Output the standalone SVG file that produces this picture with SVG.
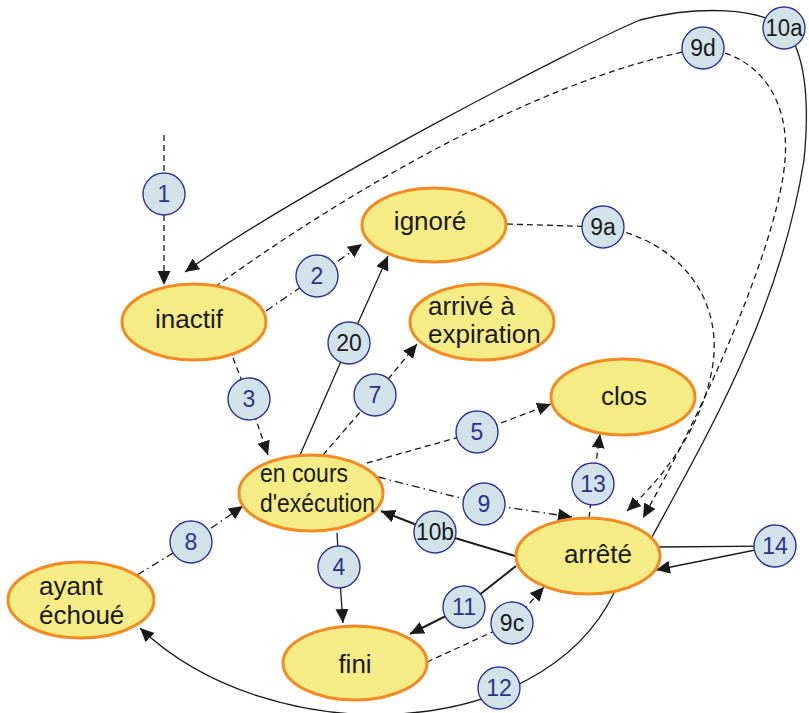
<svg xmlns="http://www.w3.org/2000/svg" width="809" height="713" viewBox="0 0 809 713">
<style>
.st{fill:#f6ec86;stroke:#f38a22;stroke-width:3}
.nt{font-family:"Liberation Sans",Arial,sans-serif;font-size:26px;fill:#1a1a1a}
.lb{fill:#d2e2e9;stroke:#2b3592;stroke-width:1.4}
.lt{font-family:"Liberation Sans",Arial,sans-serif;font-size:23px;text-anchor:middle}
.blue{fill:#2e3192}
.blk{fill:#1a1a1a}
.c{fill:none;stroke:#1a1a1a;stroke-width:1.3}
.d{stroke-dasharray:6 4}
.dd{stroke-dasharray:8 4 1.5 4}
.thick{stroke-width:2}
</style>
<defs>
<marker id="a" markerUnits="userSpaceOnUse" markerWidth="15" markerHeight="14" refX="14" refY="6.5" orient="auto">
<path d="M0,0 L14,6.5 L0,13 z" fill="#1a1a1a"/>
</marker>
</defs>
<g id="connectors">
<path id="c1" class="c d" d="M164,135 L164,285" marker-end="url(#a)"/>
<path id="c2" class="c dd" d="M266,311 L317,276 L362,244" marker-end="url(#a)"/>
<path id="c3" class="c d" d="M233,358 L249,399 L268,455" marker-end="url(#a)"/>
<path id="c20" class="c" d="M300,455 L349,343 L388,256" marker-end="url(#a)"/>
<path id="c7" class="c d" d="M323,455 L375,395 L417,344" marker-end="url(#a)"/>
<path id="c5" class="c d" d="M367,463 L477,432 L551,404" marker-end="url(#a)"/>
<path id="c9" class="c dd" d="M378,477 L484,504 L572,517" marker-end="url(#a)"/>
<path id="c10b" class="c thick" d="M515,556 L435,532 L381,511" marker-end="url(#a)"/>
<path id="c4" class="c" d="M337,533 L339,567 L343,623" marker-end="url(#a)"/>
<path id="c8" class="c dd" d="M137,575 L191,542 L243,506" marker-end="url(#a)"/>
<path id="c11" class="c thick" d="M516,566 L464,607 L410,634" marker-end="url(#a)"/>
<path id="c9c" class="c d" d="M427,662 L512,623 L544,587" marker-end="url(#a)"/>
<path id="c13" class="c d" d="M589,518 L593,484 L600,434" marker-end="url(#a)"/>
<path id="c14a" class="c" d="M775,546 L659,547"/>
<path id="c14b" class="c" d="M775,546 L656,570" marker-end="url(#a)"/>
<path id="c12" class="c" d="M614,593 C540,745 270,752 140,628" marker-end="url(#a)"/>
<path id="c10a" class="c" d="M652,537 C710,430 780,310 804,160 C810,100 805,50 784,28 C760,8 700,5 640,20 C580,45 300,190 185,272" marker-end="url(#a)"/>
<path id="c9d" class="c d" d="M215,287 C300,225 520,80 703,48 C760,55 790,100 785,160 C780,230 720,380 643,518" marker-end="url(#a)"/>
<path id="c9a" class="c d" d="M507,224 L603,227 C680,240 725,300 712,370 C700,430 665,475 627,511" marker-end="url(#a)"/>
</g>
<g id="n-ignore"><ellipse class="st" cx="434" cy="225" rx="72" ry="37"/><text class="nt" x="430" y="230" text-anchor="middle">ignoré</text></g>
<g id="n-inactif"><ellipse class="st" cx="194" cy="322" rx="72" ry="38"/><text class="nt" x="189" y="328" text-anchor="middle">inactif</text></g>
<g id="n-expiration"><ellipse class="st" cx="482" cy="322" rx="72" ry="38"/><text class="nt" x="428" y="315">arrivé à</text><text class="nt" x="428" y="343">expiration</text></g>
<g id="n-clos"><ellipse class="st" cx="623" cy="397" rx="72" ry="38"/><text class="nt" x="624" y="405" text-anchor="middle">clos</text></g>
<g id="n-encours"><ellipse class="st" cx="311" cy="493" rx="72" ry="38"/><text class="nt" x="260" y="482" style="font-size:25px" textLength="88" lengthAdjust="spacingAndGlyphs">en cours</text><text class="nt" x="260" y="512" style="font-size:25px" textLength="115" lengthAdjust="spacingAndGlyphs">d'exécution</text></g>
<g id="n-arrete"><ellipse class="st" cx="588" cy="556" rx="72" ry="38"/><text class="nt" x="598" y="563" text-anchor="middle">arrêté</text></g>
<g id="n-echoue"><ellipse class="st" cx="81" cy="600" rx="73" ry="38"/><text class="nt" x="39" y="595">ayant</text><text class="nt" x="39" y="624">échoué</text></g>
<g id="n-fini"><ellipse class="st" cx="355" cy="663" rx="72" ry="37"/><text class="nt" x="355" y="673" text-anchor="middle">fini</text></g>
<g id="labels">
<g id="l1"><circle class="lb" cx="164" cy="194" r="21"/><text class="lt blue" x="164" y="202">1</text></g>
<g id="l2"><circle class="lb" cx="317" cy="276" r="21"/><text class="lt blue" x="317" y="284">2</text></g>
<g id="l3"><circle class="lb" cx="249" cy="399" r="21"/><text class="lt blue" x="249" y="407">3</text></g>
<g id="l20"><circle class="lb" cx="349" cy="343" r="21"/><text class="lt blk" x="349" y="351">20</text></g>
<g id="l7"><circle class="lb" cx="375" cy="395" r="21"/><text class="lt blue" x="375" y="403">7</text></g>
<g id="l5"><circle class="lb" cx="477" cy="432" r="21"/><text class="lt blue" x="477" y="440">5</text></g>
<g id="l9"><circle class="lb" cx="484" cy="504" r="21"/><text class="lt blue" x="484" y="512">9</text></g>
<g id="l13"><circle class="lb" cx="593" cy="484" r="21"/><text class="lt blue" x="593" y="492">13</text></g>
<g id="l10b"><circle class="lb" cx="435" cy="532" r="21"/><text class="lt blk" x="435" y="540" textLength="38" lengthAdjust="spacingAndGlyphs">10b</text></g>
<g id="l14"><circle class="lb" cx="775" cy="546" r="21"/><text class="lt blue" x="775" y="554">14</text></g>
<g id="l8"><circle class="lb" cx="191" cy="542" r="21"/><text class="lt blue" x="191" y="550">8</text></g>
<g id="l4"><circle class="lb" cx="339" cy="567" r="21"/><text class="lt blue" x="339" y="575">4</text></g>
<g id="l11"><circle class="lb" cx="464" cy="607" r="21"/><text class="lt blue" x="464" y="615">11</text></g>
<g id="l9c"><circle class="lb" cx="512" cy="623" r="21"/><text class="lt blk" x="512" y="631">9c</text></g>
<g id="l12"><circle class="lb" cx="499" cy="688" r="21"/><text class="lt blue" x="499" y="696">12</text></g>
<g id="l9a"><circle class="lb" cx="603" cy="227" r="21"/><text class="lt blk" x="603" y="235">9a</text></g>
<g id="l9d"><circle class="lb" cx="703" cy="48" r="21"/><text class="lt blk" x="703" y="56">9d</text></g>
<g id="l10a"><circle class="lb" cx="784" cy="28" r="21"/><text class="lt blk" x="784" y="36" textLength="37" lengthAdjust="spacingAndGlyphs">10a</text></g>
</g>
</svg>
